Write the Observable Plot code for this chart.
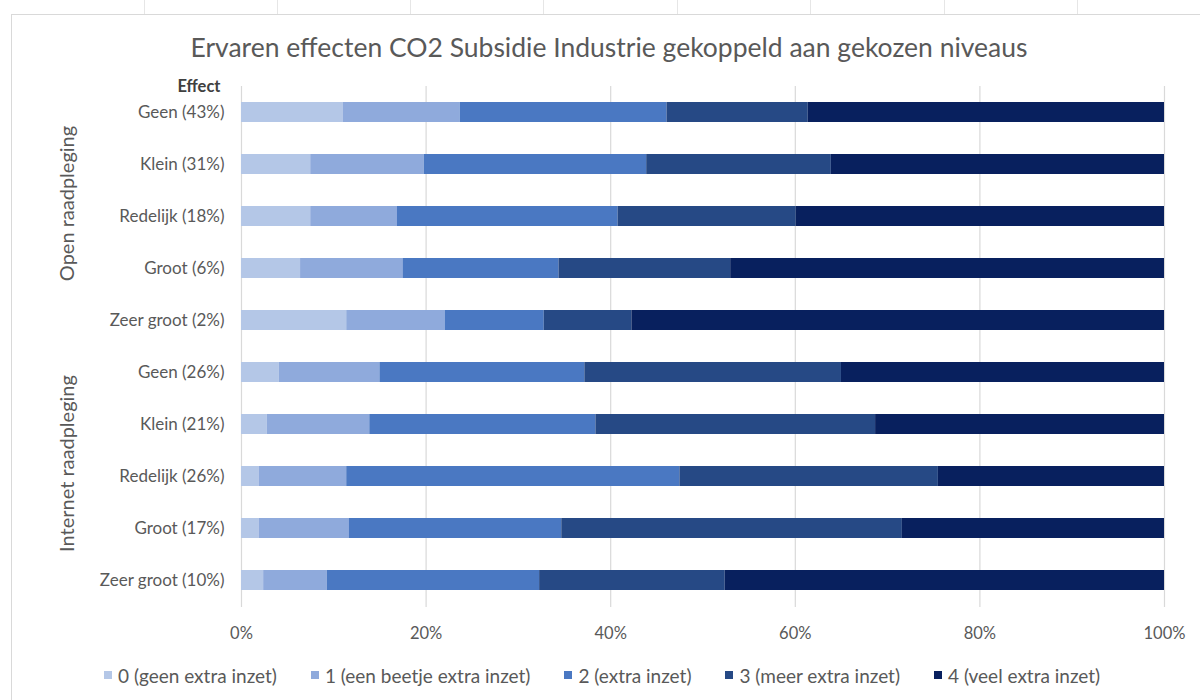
<!DOCTYPE html>
<html>
<head>
<meta charset="utf-8">
<script src="https://cdn.jsdelivr.net/npm/d3@7"></script>
<script src="https://cdn.jsdelivr.net/npm/@observablehq/plot@0.6"></script>
<style>
  body { margin: 0; background: #fff; font-family: Lato, "Open Sans", sans-serif; color: #595959; }
  #wrap { position: relative; width: 1200px; height: 700px; overflow: hidden; }
  #frame { position: absolute; left: 11px; top: 14px; width: 1300px; height: 800px;
           border-left: 1px solid #d9d9d9; border-top: 1px solid #d9d9d9; pointer-events: none; }
  .colmark { position: absolute; top: 0; width: 1px; height: 14px; background: #e6e6e6; }
  #title { height: 37px; padding-top: 33px; line-height: 28px; font-size: 26.5px; text-align: center;
           padding-left: 18px; box-sizing: content-box; color: #595959; position: relative; }
  #chart svg { display: block; }
  #legend { height: 48px; }
  #legend .lg-swatches-wrap { padding-left: 104px; margin: 0; min-height: 46px; display: flex; align-items: center; }
  #legend .lg-swatch { margin-right: 34px !important; font-size: 19px; color: #595959; }
  #legend .lg-swatch > svg { margin-right: 6px !important; }
</style>
</head>
<body>
<div id="wrap">
  <div id="frame"></div>
  <div id="marks"></div>
  <div id="title">Ervaren effecten CO2 Subsidie Industrie gekoppeld aan gekozen niveaus</div>
  <div id="chart"></div>
  <div id="legend"></div>
</div>
<script>
// ---- data ----
const levels = ["0 (geen extra inzet)", "1 (een beetje extra inzet)", "2 (extra inzet)", "3 (meer extra inzet)", "4 (veel extra inzet)"];
const levelColors = ["#b4c7e7", "#8faadc", "#4a78c2", "#264985", "#08205e"];
const groups = ["Open raadpleging", "Internet raadpleging"];
const effectGroup = [0, 0, 0, 0, 0, 1, 1, 1, 1, 1];
const effects = ["Geen (43%)", "Klein (31%)", "Redelijk (18%)", "Groot (6%)", "Zeer groot (2%)",
                 "Geen (26%)", "Klein (21%)", "Redelijk (26%)", "Groot (17%)", "Zeer groot (10%)"];
const level0 = [11.0, 7.5, 7.5, 6.4, 11.4, 4.1, 2.8, 1.9, 1.9, 2.4];
const level1 = [12.7, 12.3, 9.4, 11.1, 10.7, 10.9, 11.1, 9.5, 9.8, 6.9];
const level2 = [22.4, 24.1, 23.9, 16.9, 10.7, 22.2, 24.5, 36.1, 23.0, 23.0];
const level3 = [15.3, 20.0, 19.3, 18.6, 9.5, 27.8, 30.3, 28.0, 36.9, 20.1];
const level4 = [38.6, 36.1, 39.9, 47.0, 57.7, 35.0, 31.3, 24.5, 28.4, 47.6];
const xTicks = [0, 20, 40, 60, 80, 100];
const axisTitle = "Effect";

// ---- build table ----
const series = [level0, level1, level2, level3, level4];
const keys = effects.map((e, i) => groups[effectGroup[i]] + "|" + e);
const rows = [];
effects.forEach((e, i) => {
  series.forEach((s, l) => rows.push({key: keys[i], level: levels[l], value: s[i]}));
});
const groupLabelRows = groups.map((g, gi) => ({group: g, key: keys[effectGroup.indexOf(gi) + 2]}));

// column marks (spreadsheet decoration)
const marksDiv = document.getElementById("marks");
[144, 277, 410, 543, 677, 810, 944, 1077].forEach(x => {
  const d = document.createElement("div");
  d.className = "colmark"; d.style.left = x + "px";
  marksDiv.appendChild(d);
});

const font = "Lato, 'Open Sans', sans-serif";
const chart = Plot.plot({
  width: 1200,
  height: 582,
  marginTop: 16,
  marginBottom: 45,
  marginLeft: 241,
  marginRight: 36,
  style: {fontFamily: font, color: "#595959", fontSize: "16px", background: "transparent"},
  x: {domain: [0, 100], ticks: xTicks, tickFormat: d => d + "%"},
  y: {domain: keys, paddingInner: 0.61, paddingOuter: 0.305, align: 0.5},
  color: {domain: levels, range: levelColors},
  marks: [
    Plot.gridX(xTicks, {stroke: "#d9d9d9", strokeOpacity: 1, strokeWidth: 1.2}),
    Plot.barX(rows, {x: "value", y: "key", fill: "level", order: levels}),
    Plot.axisX({ticks: xTicks, tickSize: 0, tickPadding: 20, tickFormat: d => d + "%", fontSize: 16.5, label: null}),
    Plot.axisY({tickSize: 0, tickPadding: 17, tickFormat: k => k.split("|")[1], fontSize: 17, label: null}),
    Plot.text([axisTitle], {frameAnchor: "top-left", dx: -21, dy: 0, textAnchor: "end", lineAnchor: "middle",
                            fontWeight: "bold", fontSize: 16.5, fill: "#404040"}),
    Plot.text(groupLabelRows, {y: "key", text: "group", frameAnchor: "left", dx: -174, dy: -13,
                               textAnchor: "middle", lineAnchor: "middle",
                               rotate: -90, fontSize: 20, fill: "#595959"})
  ]
});
document.getElementById("chart").appendChild(chart);

const legend = Plot.legend({
  color: {domain: levels, range: levelColors},
  legend: "swatches",
  swatchSize: 8,
  className: "lg",
  style: {fontFamily: font, fontSize: "19px", color: "#595959"}
});
document.getElementById("legend").appendChild(legend);
</script>
</body>
</html>
